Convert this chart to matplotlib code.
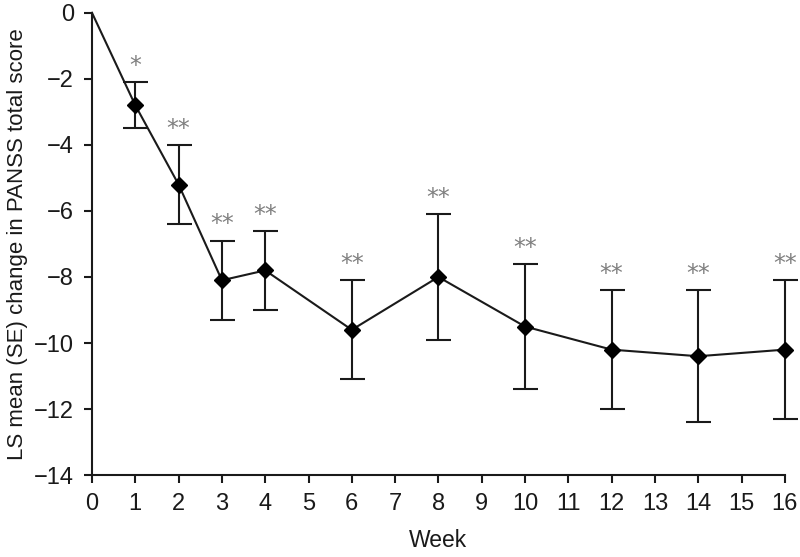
import matplotlib
matplotlib.use("Agg")
import matplotlib.pyplot as plt

weeks = [0, 1, 2, 3, 4, 6, 8, 10, 12, 14, 16]
ls_mean = [0, -2.8, -5.2, -8.1, -7.8, -9.6, -8.0, -9.5, -10.2, -10.4, -10.2]
se = [0, 0.7, 1.2, 1.2, 1.2, 1.5, 1.9, 1.9, 1.8, 2.0, 2.1]
signif = ["", "*", "**", "**", "**", "**", "**", "**", "**", "**", "**"]

plt.rcParams['font.family'] = ['Liberation Sans', 'DejaVu Sans']

fig = plt.figure(figsize=(8, 5.57), dpi=100)
ax = fig.add_axes([0.115, 0.147, 0.866, 0.83])

ax.errorbar(weeks[1:], ls_mean[1:], yerr=se[1:], fmt='none', ecolor='#1a1a1a',
            elinewidth=1.5, capsize=9, capthick=1.5, zorder=2, clip_on=False)
ax.plot(weeks, ls_mean, color='#1a1a1a', linewidth=1.5, zorder=3, clip_on=False)
ax.plot(weeks[1:], ls_mean[1:], linestyle='none', marker='D', markersize=8,
        color='black', zorder=4, clip_on=False)

for w, m, s, lab in zip(weeks, ls_mean, se, signif):
    if lab:
        ax.annotate(lab, xy=(w, m + s), xytext=(0, 3), textcoords='offset points',
                    ha='center', va='bottom', fontsize=17, color='#808080',
                    family='DejaVu Sans')

ax.set_xlim(0, 16)
ax.set_ylim(-14, 0)
ax.set_xticks(range(0, 17))
ax.set_yticks(range(-14, 1, 2))
ax.set_yticklabels([f"\u2212{abs(v)}" if v < 0 else str(v) for v in range(-14, 1, 2)])
ax.spines['top'].set_visible(False)
ax.spines['right'].set_visible(False)
for sp in ['left', 'bottom']:
    ax.spines[sp].set_linewidth(1.5)
    ax.spines[sp].set_color('#1a1a1a')
ax.tick_params(axis='both', direction='out', length=6, width=1.5, labelsize=17,
               colors='#1a1a1a', pad=7)
ax.set_xlabel("Week", fontsize=16.5, color='#1a1a1a', labelpad=10)
ax.set_ylabel("LS mean (SE) change in PANSS total score", fontsize=16,
              color='#1a1a1a', labelpad=4)

fig.savefig("out.png", dpi=100)
